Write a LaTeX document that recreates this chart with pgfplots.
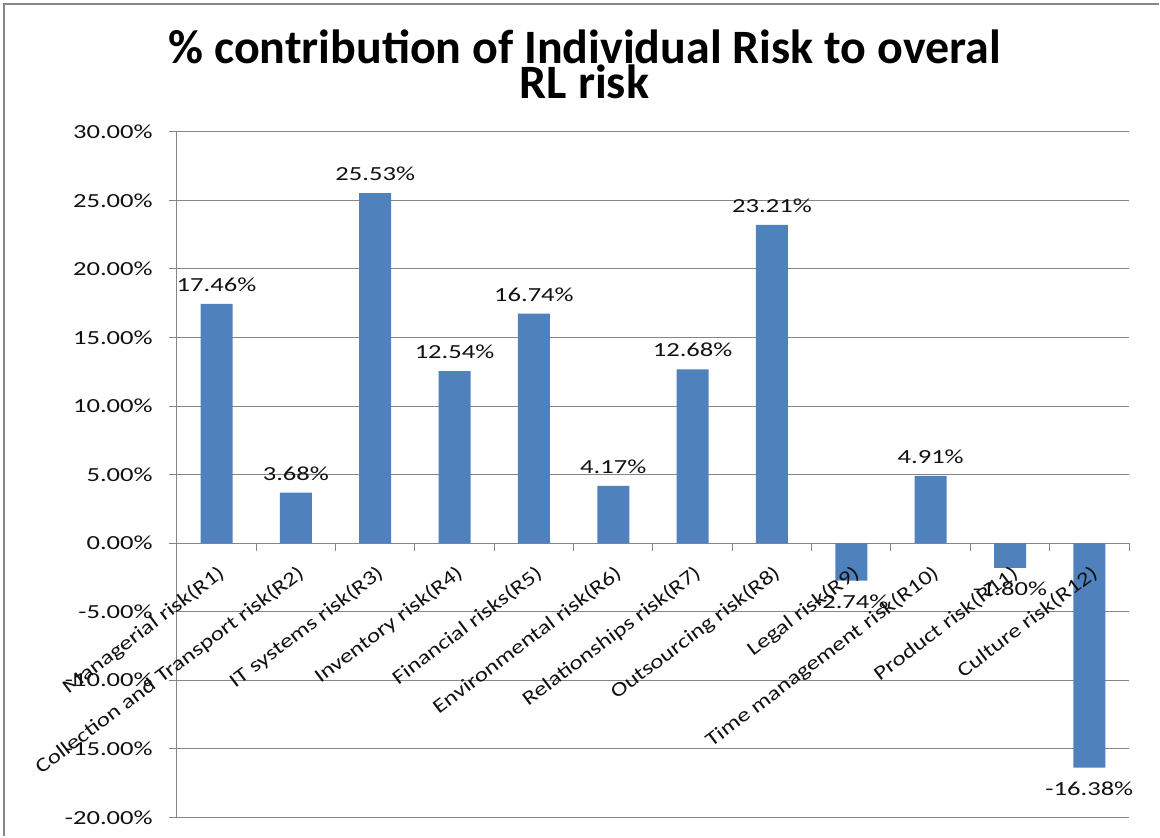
\documentclass[border=0pt]{standalone}
\usepackage{pgfplots}
\pgfplotsset{compat=1.18}
\usepackage{fontspec}
\setmainfont{Carlito}
\newfontfamily\bodyfont[FakeStretch=1.33]{Carlito}
\newfontfamily\catfont[FakeStretch=1.25]{Carlito}
\newfontfamily\titlefont{Carlito}
\definecolor{barblue}{HTML}{4F81BD}
\definecolor{gridgray}{HTML}{868686}
\definecolor{txt}{HTML}{111111}
\tikzset{catlabel/.style={font=\catfont\fontsize{20bp}{22bp}\selectfont, text=txt, rotate=37, anchor=east, inner sep=0pt, xshift=-12bp, yshift=-26bp}}
\begin{document}
\begin{tikzpicture}
\path (0bp,0bp) rectangle (1160bp,837bp);
\draw[gridgray, line width=2bp] (4bp,0bp) -- (4bp,833bp) -- (1160bp,833bp);
\node[anchor=base, inner sep=0pt, font=\titlefont\bfseries\fontsize{48bp}{50bp}\selectfont] at (585bp,773bp) {\% contribution of Individual Risk to overal};
\node[anchor=base, inner sep=0pt, font=\titlefont\bfseries\fontsize{48bp}{50bp}\selectfont] at (585bp,738bp) {RL risk};
\begin{axis}[
  at={(177bp,19bp)}, anchor=south west,
  width=953bp, height=686bp, scale only axis,
  ymin=-20, ymax=30,
  ytick={-20,-15,...,30},
  yticklabels={-20.00\%,-15.00\%,-10.00\%,-5.00\%,0.00\%,5.00\%,10.00\%,15.00\%,20.00\%,25.00\%,30.00\%},
  xmin=-0.5, xmax=11.5,
  xtick={0,...,11},
  xticklabels={},
  minor xtick={-0.5,0.5,...,11.5},
  axis x line=middle, axis y line=left,
  axis line style={-, draw=gridgray, line width=1bp},
  hide obscured y ticks=false,
  ymajorgrids, grid style={draw=gridgray, line width=1bp},
  tick align=outside,
  major tick length=8bp, minor tick length=8bp,
  tick style={draw=gridgray, line width=1bp},
  major x tick style={draw=none},
  yticklabel style={font=\bodyfont\fontsize{20bp}{22bp}\selectfont, text=txt, inner sep=0pt, xshift=-16bp},
  ybar, bar width=32bp,
  nodes near coords, point meta=explicit symbolic,
  visualization depends on={y \as \yv},
  every node near coord/.append style={font=\bodyfont\fontsize{20bp}{22bp}\selectfont, text=txt, inner sep=12bp, anchor=south, yshift={ifthenelse(\yv<0,-40,0)}},
  clip=false,
]
\addplot[fill=barblue, draw=none] coordinates {
(0,17.46) [17.46\%]
(1,3.68) [3.68\%]
(2,25.53) [25.53\%]
(3,12.54) [12.54\%]
(4,16.74) [16.74\%]
(5,4.17) [4.17\%]
(6,12.68) [12.68\%]
(7,23.21) [23.21\%]
(8,-2.74) [-2.74\%]
(9,4.91) [4.91\%]
(10,-1.80) [-1.80\%]
(11,-16.38) [-16.38\%]
};
\node[catlabel] at (axis cs:0,0) {Managerial risk(R1)};
\node[catlabel] at (axis cs:1,0) {Collection and Transport risk(R2)};
\node[catlabel] at (axis cs:2,0) {IT systems risk(R3)};
\node[catlabel] at (axis cs:3,0) {Inventory risk(R4)};
\node[catlabel] at (axis cs:4,0) {Financial risks(R5)};
\node[catlabel] at (axis cs:5,0) {Environmental risk(R6)};
\node[catlabel] at (axis cs:6,0) {Relationships risk(R7)};
\node[catlabel] at (axis cs:7,0) {Outsourcing risk(R8)};
\node[catlabel] at (axis cs:8,0) {Legal risk(R9)};
\node[catlabel] at (axis cs:9,0) {Time management risk(R10)};
\node[catlabel] at (axis cs:10,0) {Product risk(R11)};
\node[catlabel] at (axis cs:11,0) {Culture risk(R12)};
\end{axis}
\end{tikzpicture}
\end{document}
